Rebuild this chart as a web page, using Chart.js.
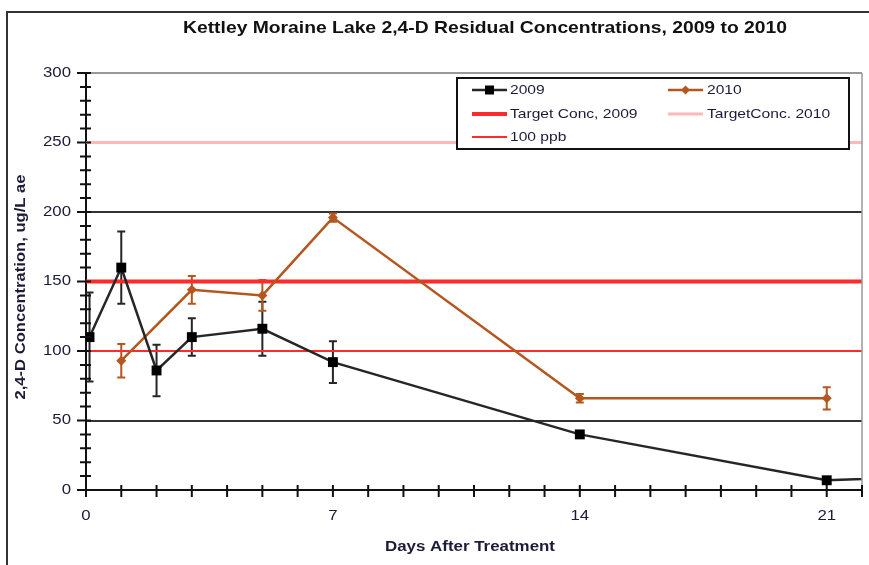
<!DOCTYPE html>
<html>
<head>
<meta charset="utf-8">
<script src="https://cdn.jsdelivr.net/npm/chart.js@4/dist/chart.umd.min.js"></script>
<style>
  body { margin: 0; background: #fff; }
  canvas { display: block; }
</style>
</head>
<body>
<canvas id="chart" width="869" height="565"></canvas>
<script>
// data
const days2009 = [0.1, 1, 2, 3, 5, 7, 14, 21, 28];
const conc2009 = [110, 160, 86, 110, 116, 92, 40, 7, 13];
const err2009 = [32, 26, 18.5, 13.5, 19.5, 15, 0, 0, 0];

const days2010 = [1, 3, 5, 7, 14, 21];
const conc2010 = [93, 144, 140, 196, 66, 66];
const err2010 = [12, 10, 11, 3, 3, 8];

const target2009 = 150;
const target2010 = 250;
const ppb100 = 100;

const xTicks = [0, 7, 14, 21];
const yTicks = [0, 50, 100, 150, 200, 250, 300];

const TEXT = "#1c1c38";
const BROWN = "#b4561e";

const pts = (xs, ys) => xs.map((x, i) => ({x: x, y: ys[i]}));
const flat = v => [{x: 0, y: v}, {x: 22, y: v}];

function drawText(ctx, text, x, y, font, sx, align, rot, color){
    ctx.save();
    ctx.font = font;
    ctx.fillStyle = color || TEXT;
    ctx.textAlign = align || "center";
    ctx.textBaseline = "middle";
    ctx.translate(x, y);
    if (rot) ctx.rotate(rot);
    ctx.scale(sx, 1);
    ctx.fillText(text, 0, 0);
    ctx.restore();
}

function fitScale(ctx, text, font, width){
    ctx.font = font;
    return width / ctx.measureText(text).width;
}

const errorBars = {
    id: "errorBars",
    beforeDatasetsDraw(chart){
        const ctx = chart.ctx;
        const xs = chart.scales.x, ys = chart.scales.y;
        chart.data.datasets.forEach(ds => {
            if (!ds.errors) return;
            ctx.save();
            ctx.strokeStyle = ds.borderColor;
            ctx.lineWidth = 2;
            ds.data.forEach((p, i) => {
                const e = ds.errors[i];
                if (!e || p.x > 22) return;
                const px = xs.getPixelForValue(p.x);
                const top = ys.getPixelForValue(p.y + e);
                const bot = ys.getPixelForValue(p.y - e);
                ctx.beginPath();
                ctx.moveTo(px, top); ctx.lineTo(px, bot);
                ctx.moveTo(px - 4, top); ctx.lineTo(px + 4, top);
                ctx.moveTo(px - 4, bot); ctx.lineTo(px + 4, bot);
                ctx.stroke();
            });
            ctx.restore();
        });
    }
};

const decor = {
    id: "decor",
    beforeDraw(chart){
        const ctx = chart.ctx;
        ctx.save();
        ctx.fillStyle = "#fff";
        ctx.fillRect(0, 0, chart.width, chart.height);
        ctx.restore();
    },
    afterDraw(chart){
        const ctx = chart.ctx;
        const a = chart.chartArea;
        const xs = chart.scales.x, ys = chart.scales.y;

        // outer frame
        ctx.save();
        ctx.strokeStyle = "#333";
        ctx.lineWidth = 2;
        ctx.beginPath();
        ctx.moveTo(7, chart.height); ctx.lineTo(7, 12); ctx.lineTo(chart.width, 12);
        ctx.stroke();

        // plot area right border
        ctx.strokeStyle = "#999";
        ctx.lineWidth = 1.5;
        ctx.beginPath();
        ctx.moveTo(a.right, a.top); ctx.lineTo(a.right, a.bottom);
        ctx.stroke();

        // minor ticks
        ctx.strokeStyle = "#111";
        ctx.lineWidth = 2;
        ctx.beginPath();
        for (let v = 0; v <= 300; v += 10){
            const py = ys.getPixelForValue(v);
            ctx.moveTo(a.left - (v % 50 === 0 ? 9 : 6), py);
            ctx.lineTo(a.left + 5, py);
        }
        for (let d = 0; d <= 22; d++){
            const px = xs.getPixelForValue(d);
            ctx.moveTo(px, a.bottom - 5);
            ctx.lineTo(px, a.bottom + 7);
        }
        ctx.stroke();
        ctx.restore();

        // tick labels
        ys.ticks.forEach(t => {
            drawText(ctx, String(t.value), a.left - 15, ys.getPixelForValue(t.value), "14px 'Liberation Sans', Arial", 1.2, "right");
        });
        xs.ticks.forEach(t => {
            drawText(ctx, String(t.value), xs.getPixelForValue(t.value), 516, "14px 'Liberation Sans', Arial", 1.2, "center");
        });

        // titles
        const title = "Kettley Moraine Lake 2,4-D Residual Concentrations, 2009 to 2010";
        const tf = "bold 17px 'Liberation Sans', Arial";
        drawText(ctx, title, 485, 28, tf, fitScale(ctx, title, tf, 604), "center", 0, "#111");
        const xt = "Days After Treatment";
        const xf = "bold 14px 'Liberation Sans', Arial";
        drawText(ctx, xt, 470, 547, xf, fitScale(ctx, xt, xf, 170), "center");
        const yt = "2,4-D Concentration, ug/L ae";
        drawText(ctx, yt, 21, 287, xf, fitScale(ctx, yt, xf, 225), "center", -Math.PI / 2);

        // legend
        const box = {l: 457, t: 78, r: 849, b: 149};
        ctx.save();
        ctx.fillStyle = "#fff";
        ctx.fillRect(box.l, box.t, box.r - box.l, box.b - box.t);
        ctx.strokeStyle = "#111";
        ctx.lineWidth = 2;
        ctx.strokeRect(box.l, box.t, box.r - box.l, box.b - box.t);
        ctx.restore();
        const cols = [{x0: 472, x1: 507, tx: 510}, {x0: 668, x1: 703, tx: 707}];
        const rows = [90, 114, 137];
        chart.data.datasets.forEach((ds, i) => {
            const c = cols[i % 2], ry = rows[Math.floor(i / 2)];
            ctx.save();
            ctx.strokeStyle = ds.borderColor;
            ctx.lineWidth = ds.borderWidth;
            ctx.beginPath();
            ctx.moveTo(c.x0, ry); ctx.lineTo(c.x1, ry);
            ctx.stroke();
            if (ds.pointRadius){
                const cx = (c.x0 + c.x1) / 2;
                ctx.fillStyle = ds.pointBackgroundColor;
                ctx.beginPath();
                if (ds.pointStyle === "rect"){
                    ctx.rect(cx - 4.5, ry - 4.5, 9, 9);
                } else {
                    ctx.moveTo(cx, ry - 4.5); ctx.lineTo(cx + 4.5, ry); ctx.lineTo(cx, ry + 4.5); ctx.lineTo(cx - 4.5, ry);
                    ctx.closePath();
                }
                ctx.fill();
            }
            ctx.restore();
            drawText(ctx, ds.label, c.tx, ry, "13px 'Liberation Sans', Arial", 1.2, "left");
        });
    }
};

new Chart(document.getElementById("chart"), {
    type: "line",
    data: {
        datasets: [
            {
                label: "2009",
                data: pts(days2009, conc2009),
                errors: err2009,
                borderColor: "#262626",
                borderWidth: 2.5,
                pointStyle: "rect",
                pointRadius: 7,
                pointBackgroundColor: "#000",
                pointBorderColor: "#000",
                pointBorderWidth: 0,
                tension: 0
            },
            {
                label: "2010",
                data: pts(days2010, conc2010),
                errors: err2010,
                borderColor: BROWN,
                borderWidth: 2.5,
                pointStyle: "rectRot",
                pointRadius: 5,
                pointBackgroundColor: BROWN,
                pointBorderColor: BROWN,
                pointBorderWidth: 0,
                tension: 0
            },
            {
                label: "Target Conc, 2009",
                data: flat(target2009),
                borderColor: "#ff2a2a",
                borderWidth: 4,
                pointRadius: 0
            },
            {
                label: "TargetConc. 2010",
                data: flat(target2010),
                borderColor: "#ffb8b8",
                borderWidth: 3,
                pointRadius: 0
            },
            {
                label: "100 ppb",
                data: flat(ppb100),
                borderColor: "#ff2a2a",
                borderWidth: 2,
                pointRadius: 0
            }
        ]
    },
    options: {
        responsive: false,
        animation: false,
        devicePixelRatio: 1,
        layout: {
            padding: {top: 73, right: 7, left: 0, bottom: 0}
        },
        plugins: {
            legend: {display: false},
            tooltip: {enabled: false}
        },
        scales: {
            x: {
                type: "linear",
                min: 0,
                max: 22,
                afterBuildTicks: s => { s.ticks = xTicks.map(v => ({value: v})); },
                afterFit: s => { s.height = 75; },
                ticks: {display: false},
                grid: {display: false},
                border: {display: true, color: "#111", width: 2}
            },
            y: {
                min: 0,
                max: 300,
                afterBuildTicks: s => { s.ticks = yTicks.map(v => ({value: v})); },
                afterFit: s => { s.width = 86; },
                ticks: {display: false},
                grid: {
                    color: c => c.tick && c.tick.value === 300 ? "#999" : "#333",
                    lineWidth: 2,
                    drawTicks: false
                },
                border: {display: true, color: "#111", width: 2}
            }
        }
    },
    plugins: [decor, errorBars]
});
</script>
</body>
</html>
